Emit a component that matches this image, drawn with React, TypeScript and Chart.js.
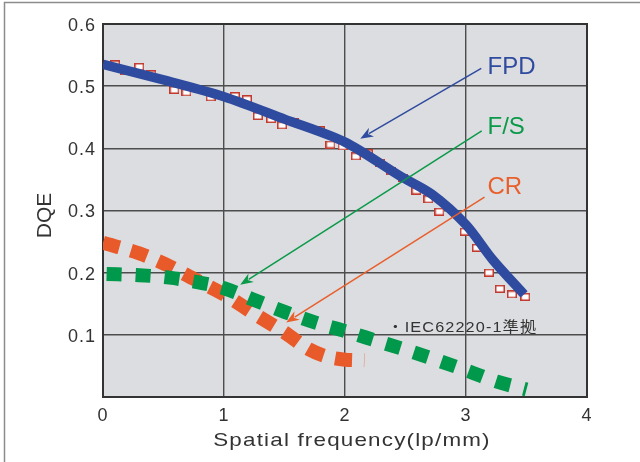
import React, { useEffect, useRef } from "react";
import { Chart, registerables } from "chart.js";

Chart.register(...registerables);

// ---- data ----
const fpdX = [0, 0.5, 1.0, 1.5, 2.0, 2.45, 2.72, 3.0, 3.22, 3.48];
const fpdY = [0.535, 0.51, 0.483, 0.447, 0.41, 0.356, 0.326, 0.277, 0.221, 0.165];

const measX = [0.1, 0.18, 0.3, 0.4, 0.59, 0.69, 0.89, 1.09, 1.19, 1.28, 1.39, 1.48, 1.58, 1.79, 1.88, 1.98, 2.09, 2.19, 2.29, 2.38, 2.48, 2.59, 2.69, 2.78, 2.99, 3.09, 3.19, 3.28, 3.38, 3.49];
const measY = [0.535, 0.524, 0.531, 0.519, 0.494, 0.49, 0.482, 0.484, 0.479, 0.452, 0.447, 0.437, 0.442, 0.429, 0.406, 0.403, 0.387, 0.392, 0.377, 0.363, 0.353, 0.332, 0.318, 0.298, 0.266, 0.24, 0.2, 0.174, 0.165, 0.161];

const fsX = [0.03, 0.3, 0.55, 0.8, 1.0, 1.25, 1.5, 1.75, 2.0, 2.25, 2.5, 2.75, 3.0, 3.25, 3.5];
const fsY = [0.198, 0.196, 0.192, 0.184, 0.175, 0.156, 0.137, 0.12, 0.106, 0.091, 0.076, 0.06, 0.043, 0.025, 0.012];

const crX = [0, 0.3, 0.5, 0.75, 1.0, 1.25, 1.5, 1.7, 1.85, 2.0, 2.16];
const crY = [0.248, 0.231, 0.215, 0.19, 0.165, 0.134, 0.104, 0.077, 0.065, 0.06, 0.059];

const xTicks = [0, 1, 2, 3, 4];
const yTicks = [0.1, 0.2, 0.3, 0.4, 0.5, 0.6];

const xTitle = "Spatial frequency(lp/mm)";
const yTitle = "DQE";

// annotations (in data units)
const labelNames = ["FPD", "F/S", "CR"];
const labelColors = ["#2f4b9f", "#0a9a4a", "#e95f2c"];
const labelX = [3.178, 3.178, 3.178];
const labelY = [0.519, 0.4226, 0.326];
const arrowFromX = [3.126, 3.13, 3.153];
const arrowFromY = [0.5285, 0.428, 0.3215];
const arrowToX = [2.126, 1.134, 1.514];
const arrowToY = [0.4156, 0.1806, 0.1199];
const noteText = "・IEC62220-1準拠";
const noteX = 2.35;
const noteY = 0.104;

const pts = (xs: number[], ys: number[]) => xs.map((x, i) => ({ x, y: ys[i] }));

function makeMarker() {
  const c = document.createElement("canvas");
  c.width = 10;
  c.height = 8;
  const g = c.getContext("2d")!;
  g.fillStyle = "#ffffff";
  g.fillRect(1, 1, 8, 6);
  g.strokeStyle = "#c23a2e";
  g.lineWidth = 1.5;
  g.strokeRect(0.75, 0.75, 8.5, 6.5);
  return c;
}

function drawArrow(ctx: CanvasRenderingContext2D, x1: number, y1: number, x2: number, y2: number, color: string) {
  const ang = Math.atan2(y2 - y1, x2 - x1);
  const L = 13, W = 5;
  const bx = x2 - L * Math.cos(ang), by = y2 - L * Math.sin(ang);
  ctx.strokeStyle = color;
  ctx.lineWidth = 1.5;
  ctx.beginPath();
  ctx.moveTo(x1, y1);
  ctx.lineTo(x2 - (L - 3) * Math.cos(ang), y2 - (L - 3) * Math.sin(ang));
  ctx.stroke();
  ctx.fillStyle = color;
  ctx.beginPath();
  ctx.moveTo(x2, y2);
  ctx.lineTo(bx + W * Math.sin(ang), by - W * Math.cos(ang));
  ctx.lineTo(x2 - (L - 4) * Math.cos(ang), y2 - (L - 4) * Math.sin(ang));
  ctx.lineTo(bx - W * Math.sin(ang), by + W * Math.cos(ang));
  ctx.closePath();
  ctx.fill();
}

// draw text stretched horizontally (the original uses a wide gothic face)
function wideText(ctx: CanvasRenderingContext2D, text: string, x: number, y: number, sx: number, align: CanvasTextAlign) {
  ctx.save();
  ctx.translate(x, y);
  ctx.scale(sx, 1);
  ctx.textAlign = align;
  ctx.fillText(text, 0, 0);
  ctx.restore();
}

const decor = {
  id: "decor",
  beforeDraw(chart: any) {
    const { ctx, chartArea: a } = chart;
    ctx.save();
    ctx.strokeStyle = "#8c8c8c";
    ctx.lineWidth = 1.5;
    ctx.beginPath();
    ctx.moveTo(4.5, 462);
    ctx.lineTo(4.5, 2.5);
    ctx.lineTo(640, 2.5);
    ctx.stroke();
    ctx.fillStyle = "#dcdde0";
    ctx.fillRect(a.left, a.top, a.right - a.left, a.bottom - a.top);
    ctx.restore();
    (ctx as any).letterSpacing = "1px";
  },
  beforeDatasetsDraw(chart: any) {
    const { ctx, chartArea: a } = chart;
    ctx.save();
    ctx.strokeStyle = "#333333";
    ctx.lineWidth = 2;
    ctx.strokeRect(a.left, a.top, a.right - a.left, a.bottom - a.top);
    ctx.restore();
  },
  afterDatasetsDraw(chart: any) {
    const { ctx, chartArea: a } = chart;
    const xs = chart.scales.x, ys = chart.scales.y;
    ctx.save();
    (ctx as any).letterSpacing = "0px";
    for (let i = 0; i < labelNames.length; i++) {
      drawArrow(
        ctx,
        xs.getPixelForValue(arrowFromX[i]),
        ys.getPixelForValue(arrowFromY[i]),
        xs.getPixelForValue(arrowToX[i]),
        ys.getPixelForValue(arrowToY[i]),
        labelColors[i]
      );
    }
    ctx.textBaseline = "alphabetic";
    ctx.textAlign = "left";
    ctx.font = "24px 'Liberation Sans', Arial, sans-serif";
    for (let i = 0; i < labelNames.length; i++) {
      ctx.fillStyle = labelColors[i];
      ctx.fillText(labelNames[i], xs.getPixelForValue(labelX[i]), ys.getPixelForValue(labelY[i]));
    }
    ctx.fillStyle = "#333333";
    (ctx as any).letterSpacing = "1px";
    ctx.font = "14.5px 'Liberation Sans', 'Noto Sans CJK JP', sans-serif";
    wideText(ctx, noteText, xs.getPixelForValue(noteX), ys.getPixelForValue(noteY), 1.12, "left");

    // axis titles
    ctx.fillStyle = "#333333";
    (ctx as any).letterSpacing = "1px";
    ctx.font = "19px 'Liberation Sans', Arial, sans-serif";
    wideText(ctx, xTitle, (a.left + a.right) / 2 + 7, 446, 1.18, "center");
    (ctx as any).letterSpacing = "0px";
    ctx.translate(50.5, (a.top + a.bottom) / 2 + 5);
    ctx.rotate(-Math.PI / 2);
    ctx.textAlign = "center";
    ctx.font = "21px 'Liberation Sans', Arial, sans-serif";
    ctx.fillText(yTitle, 0, 0);
    ctx.restore();
  },
};

export default function App() {
  const ref = useRef<HTMLCanvasElement>(null);
  useEffect(() => {
    if (!ref.current) return;
    Chart.defaults.font.family = "'Liberation Sans', Arial, sans-serif";
    const chart = new Chart(ref.current, {
      type: "line",
      data: {
        datasets: [
          {
            label: "FPD",
            data: pts(fpdX, fpdY),
            borderColor: "#2f4b9f",
            borderWidth: 9.5,
            pointRadius: 0,
            tension: 0.3,
            borderJoinStyle: "round",
            order: 0,
          },
          {
            label: "measured",
            data: pts(measX, measY),
            showLine: false,
            pointStyle: makeMarker(),
            pointRadius: 5,
            order: 1,
          },
          {
            label: "F/S",
            data: pts(fsX, fsY),
            borderColor: "#00984a",
            borderWidth: 14,
            borderDash: [15, 14],
            borderCapStyle: "butt",
            pointRadius: 0,
            cubicInterpolationMode: "monotone",
            order: 2,
          },
          {
            label: "CR",
            data: pts(crX, crY),
            borderColor: "#e95a2a",
            borderWidth: 14,
            borderDash: [17, 12],
            borderCapStyle: "butt",
            pointRadius: 0,
            cubicInterpolationMode: "monotone",
            order: 3,
          },
        ],
      },
      options: {
        responsive: false,
        animation: false,
        layout: { padding: { left: 0, right: 53, top: 24, bottom: 0 } },
        plugins: { legend: { display: false }, tooltip: { enabled: false } },
        scales: {
          x: {
            type: "linear",
            min: 0,
            max: 4,
            afterBuildTicks: (s: any) => {
              s.ticks = xTicks.map((v) => ({ value: v }));
            },
            afterFit: (s: any) => {
              s.height = 65;
            },
            ticks: { color: "#333", font: { size: 18 }, padding: 8 },
            grid: { color: "#4d4d4d", lineWidth: 1.4, drawTicks: false },
            border: { color: "#333", width: 2 },
            title: { display: false },
          },
          y: {
            type: "linear",
            min: 0,
            max: 0.6,
            afterBuildTicks: (s: any) => {
              s.ticks = [0, ...yTicks].map((v) => ({ value: v }));
            },
            afterFit: (s: any) => {
              s.width = 103;
            },
            ticks: {
              color: "#333",
              font: { size: 18 },
              padding: 7,
              labelOffset: 2,
              callback: (v: any) => (v === 0 ? "" : Number(v).toFixed(1)),
            },
            grid: { color: "#4d4d4d", lineWidth: 1.4, drawTicks: false },
            border: { color: "#333", width: 2 },
            title: { display: false },
          },
        },
      },
      plugins: [decor],
    } as any);
    return () => chart.destroy();
  }, []);
  return (
    <div style={{ position: "fixed", left: 0, top: 0, width: 640, height: 462 }}>
      <canvas ref={ref} width={640} height={462} />
    </div>
  );
}
